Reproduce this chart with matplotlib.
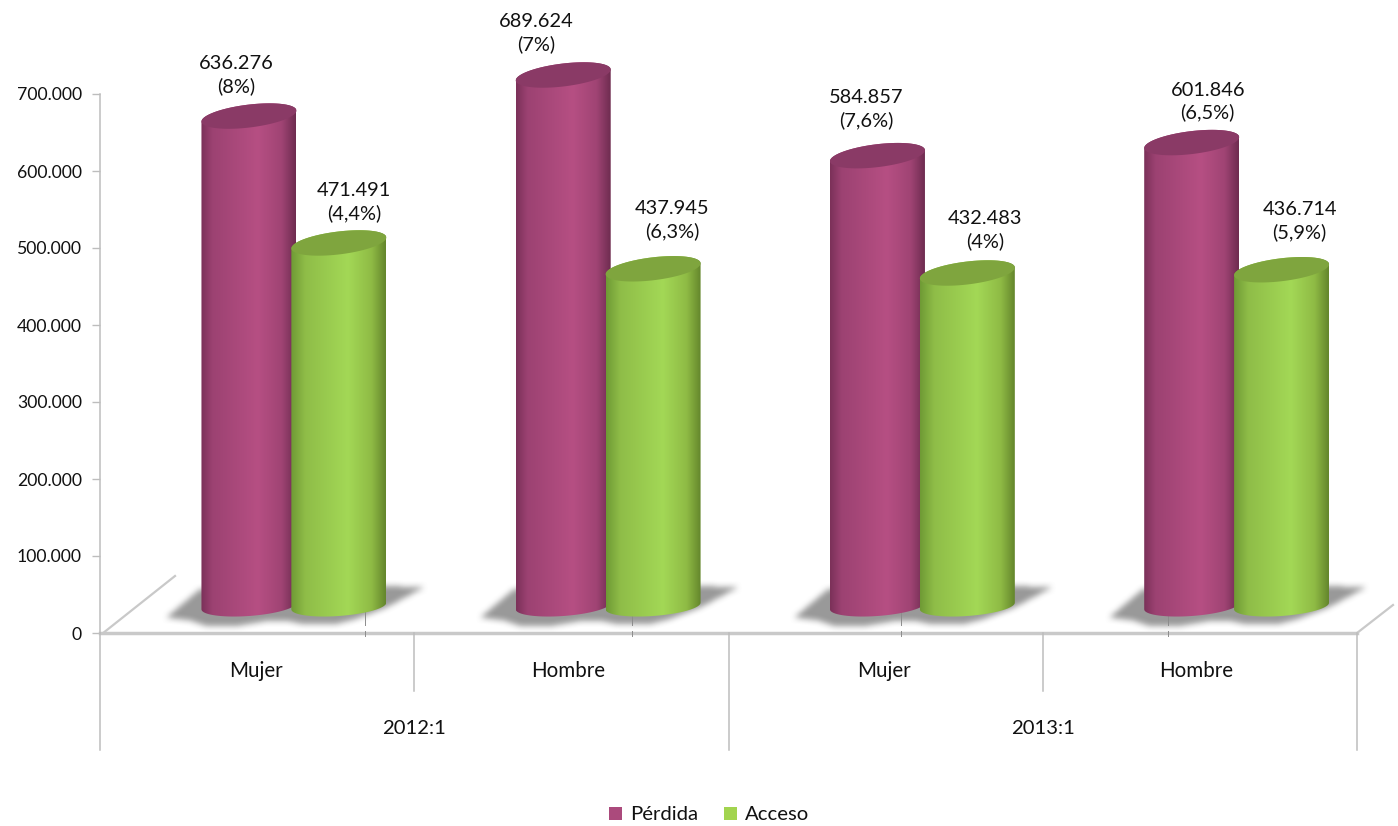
import matplotlib
matplotlib.use("Agg")
import matplotlib.pyplot as plt
import numpy as np
from matplotlib.colors import to_rgb
from matplotlib.patches import Patch, PathPatch, Polygon
from matplotlib.path import Path

plt.rcParams['font.family'] = ['Lato', 'DejaVu Sans']

sexo = ["Mujer", "Hombre", "Mujer", "Hombre"]
periodos = ["2012:1", "2013:1"]
perdida = [636276, 689624, 584857, 601846]
acceso = [471491, 437945, 432483, 436714]
perdida_pct = ["8%", "7%", "7,6%", "6,5%"]
acceso_pct = ["4,4%", "6,3%", "4%", "5,9%"]
yticks = [0, 100000, 200000, 300000, 400000, 500000, 600000, 700000]

# label offsets in pixels from the centre of the cylinder top
off_perdida = [(-13, 41), (-27, 42), (-11, 47), (16, 41)]
off_acceso = [(15, 41), (19, 49), (18, 43), (18, 49)]

W, H = 1398, 826
LEFT, RIGHT, Y0, Y700 = 100, 1357, 633, 94
sx = 4 / (RIGHT - LEFT)
sy = 700000 / (Y0 - Y700)
DEPTH = 27 * sy
A, TILT = 47.5, 0.115

fig = plt.figure(figsize=(W / 100, H / 100), dpi=100)
ax = fig.add_axes([LEFT / W, 1 - Y0 / H, (RIGHT - LEFT) / W, (Y0 - Y700) / H])
ax.set_xlim(0, 4)
ax.set_ylim(0, 700000)
ax.set_autoscale_on(False)


def gradiente(stops, colores):
    t = np.linspace(0, 1, 256)
    rgb = np.array([to_rgb(c) for c in colores])
    return np.stack([np.interp(t, stops, rgb[:, i]) for i in range(3)], axis=1)[None, :, :]


grad_perdida = gradiente([0, 0.12, 0.6, 0.85, 1], ["#7b3159", "#9c4272", "#b64f83", "#a04474", "#6e2c50"])
grad_acceso = gradiente([0, 0.15, 0.6, 0.85, 1], ["#6f9a35", "#8fbd48", "#a3d856", "#8fbb45", "#64862c"])


def elipse(xc, yc, b):
    t = np.linspace(0, 2 * np.pi, 80)
    dx = A * np.cos(t)
    dy = b * np.sin(t) + TILT * dx
    return np.column_stack([xc + dx * sx, yc + dy * sy])


def cilindro(xc, valor, grad, tapa, z):
    y0 = DEPTH
    y1 = valor + DEPTH
    t_low = np.linspace(np.pi, 2 * np.pi, 40)
    t_up = np.linspace(0, np.pi, 40)
    low = np.column_stack([xc + A * np.cos(t_low) * sx,
                           y0 + (10 * np.sin(t_low) + 0.07 * A * np.cos(t_low)) * sy])
    up = np.column_stack([xc + A * np.cos(t_up) * sx,
                          y1 + (11.5 * np.sin(t_up) + TILT * A * np.cos(t_up)) * sy])
    verts = np.vstack([low, up, low[:1]])
    patch = PathPatch(Path(verts), fc="none", ec="none", transform=ax.transData, clip_on=False, zorder=z)
    ax.add_patch(patch)
    im = ax.imshow(grad, extent=[xc - A * sx, xc + A * sx, 0, y1 + 20 * sy], aspect="auto", zorder=z)
    im.set_clip_box(fig.bbox)
    im.set_clip_path(patch)
    ax.add_patch(Polygon(elipse(xc, y1, 11.5), closed=True, fc=tapa, ec="none",
                         clip_on=False, zorder=z + 0.1))


def sombra(xc):
    # soft shadow on the floor: polygon mask in pixels around the pair, then box blur
    forma = np.array([(-128, 15), (-95, 43), (85, 47), (129, 45), (92, 25), (60, 13), (40, 8),
                      (10, 8), (-5, 11), (-30, 11), (-60, 6), (-90, 7), (-105, 12)], dtype=float)
    xs = np.arange(-150, 151)
    ys = np.arange(-5, 65)
    gx, gy = np.meshgrid(xs, ys)
    mask = Path(forma).contains_points(np.column_stack([gx.ravel(), gy.ravel()])).reshape(gx.shape).astype(float)
    k = np.ones(7) / 7
    for _ in range(2):
        mask = np.apply_along_axis(lambda f: np.convolve(f, k, mode="same"), 0, mask)
        mask = np.apply_along_axis(lambda f: np.convolve(f, k, mode="same"), 1, mask)
    rgba = np.zeros(mask.shape + (4,))
    rgba[..., :3] = 0.5
    rgba[..., 3] = mask * 0.8
    im = ax.imshow(rgba, origin="lower", aspect="auto", zorder=1,
                   extent=[xc - 150 * sx, xc + 150 * sx, -5 * sy, 65 * sy])
    im.set_clip_box(fig.bbox)


# floor and axis lines
gris = "#bdbdbd"
ax.plot([0, 4], [0, 0], color="#c9c9c9", lw=2.5, clip_on=False, zorder=2)
ax.plot([0.01, 75 * sx], [0, 57 * sy], color="#c9c9c9", lw=1.6, clip_on=False, zorder=2)
ax.plot([4, 4 + 36 * sx], [0, 28 * sy], color="#c9c9c9", lw=1.6, clip_on=False, zorder=2)
for xt in [0.843, 1.693, 2.549, 3.40]:
    ax.plot([xt, xt], [8 * sy, 24 * sy], color="#8c8c8c", lw=0.7, clip_on=False, zorder=1.5)
    ax.plot([xt, xt], [-3 * sy, 2 * sy], color="#8c8c8c", lw=0.7, clip_on=False, zorder=2.5)
for i in range(5):
    largo = 117 if i % 2 == 0 else 58
    ax.plot([i, i], [0, -largo * sy], color=gris, lw=1.1, clip_on=False, zorder=2)

for i in range(4):
    x1 = i + 0.474
    x2 = i + 0.76
    sombra((x1 + x2) / 2)
    cilindro(x1, perdida[i], grad_perdida, "#8a3a66", 3)
    cilindro(x2, acceso[i], grad_acceso, "#7fa53e", 4)
    ax.annotate(f"{perdida[i]:,}".replace(",", ".") + f"\n({perdida_pct[i]})",
                (x1, perdida[i] + DEPTH), xytext=off_perdida[i], textcoords="offset pixels",
                ha="center", va="center", fontsize=14.4, linespacing=1.35, color="#111111",
                annotation_clip=False, zorder=6)
    ax.annotate(f"{acceso[i]:,}".replace(",", ".") + f"\n({acceso_pct[i]})",
                (x2, acceso[i] + DEPTH), xytext=off_acceso[i], textcoords="offset pixels",
                ha="center", va="center", fontsize=14.4, linespacing=1.35, color="#111111",
                annotation_clip=False, zorder=6)

ax.set_xlim(0, 4)
ax.set_ylim(0, 700000)
ax.set_yticks(yticks)
ax.set_yticklabels([f"{v:,}".replace(",", ".") for v in yticks], fontsize=12.7, color="#111111")
ax.set_xticks([0.496, 1.489, 2.495, 3.488])
ax.set_xticklabels(sexo, fontsize=14.8, color="#111111")
ax.tick_params(axis="x", length=0, pad=20)
ax.tick_params(axis="y", length=6, width=1, color=gris, pad=7)
for k in ["top", "right", "bottom"]:
    ax.spines[k].set_visible(False)
ax.spines["left"].set_color(gris)
ax.spines["left"].set_linewidth(1.1)

for i, p in enumerate(periodos):
    ax.text(1 + 2 * i, -95 * sy, p, ha="center", va="center", fontsize=14.6, color="#111111")

handles = [Patch(fc="#ab4a7c", ec="none", label="Pérdida"), Patch(fc="#a2d44f", ec="none", label="Acceso")]
fig.legend(handles=handles, loc="center", bbox_to_anchor=(709 / W, 1 - 815 / H), ncol=2, frameon=False,
           fontsize=14.6, handlelength=0.65, handleheight=0.65, handletextpad=0.4, columnspacing=1.25,
           labelcolor="#111111")

fig.savefig("out.png", dpi=100)
